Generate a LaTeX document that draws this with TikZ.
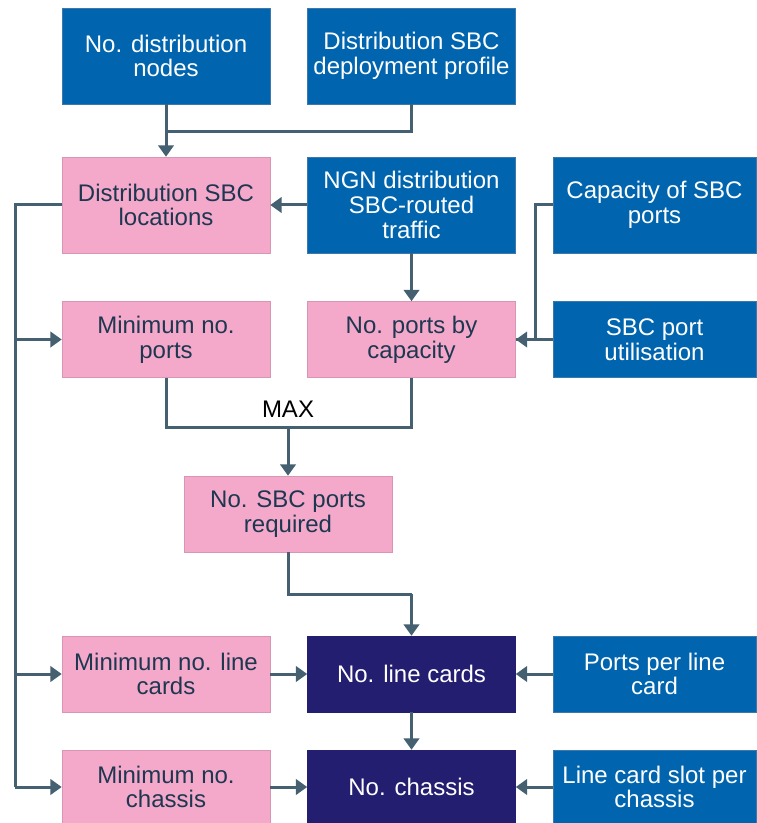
\documentclass[tikz,border=0pt]{standalone}
\usepackage{fontspec}
\setmainfont{Liberation Sans}
\usetikzlibrary{arrows.meta}
\definecolor{inblue}{RGB}{0,101,174}
\definecolor{inedge}{RGB}{60,120,170}
\definecolor{calcpink}{RGB}{244,169,203}
\definecolor{calcedge}{RGB}{214,150,180}
\definecolor{calctext}{RGB}{30,55,80}
\definecolor{outnavy}{RGB}{35,30,112}
\definecolor{wire}{RGB}{69,96,113}
\begin{document}
\begin{tikzpicture}[x=0.75pt,y=-0.75pt,
  box/.style={rectangle,inner sep=0pt,align=center,minimum width=156pt,
    font=\fontsize{18}{18.5}\selectfont},
  tall/.style={minimum height=72pt},
  flat/.style={minimum height=57pt},
  input/.style={box,fill=inblue,draw=inedge,line width=0.4pt,text=white},
  calcbox/.style={box,fill=calcpink,draw=calcedge,line width=0.4pt,text=calctext},
  output/.style={box,fill=outnavy,draw=outnavy,text=white},
  wireline/.style={draw=wire,line width=2.25pt},
  wirearrow/.style={wireline,-{Triangle[length=8.5pt,width=11.5pt]}}]
\useasboundingbox (0,0) rectangle (756,823);

% inputs along the top
\node[input,tall] (nodes) at (166,56) {No. distribution\\nodes};
\node[input,tall] (profile) at (411.5,56) {Distribution SBC\\deployment profile};

% second row
\node[calcbox,tall] (locations) at (166,205) {Distribution SBC\\locations};
\node[input,tall] (traffic) at (411.5,205) {NGN distribution\\SBC-routed\\traffic};
\node[input,tall,minimum width=152pt] (capacity) at (654.5,205) {Capacity of SBC\\ports};

% port sizing
\node[calcbox,flat] (minports) at (166,339.5) {Minimum no.\\ports};
\node[calcbox,flat] (portscap) at (411.5,339.5) {No. ports by\\capacity};
\node[input,flat,minimum width=152pt] (utilisation) at (654.5,339.5) {SBC port\\utilisation};
\node[calcbox,flat] (portsreq) at (288,514) {No. SBC ports\\required};

% line cards and chassis
\node[calcbox,flat] (minlc) at (166,674) {Minimum no. line\\cards};
\node[output,flat] (linecards) at (411.5,674) {No. line cards};
\node[input,flat,minimum width=152pt] (portsperlc) at (654.5,674) {Ports per line\\card};
\node[calcbox,flat,minimum height=55.5pt] (minchassis) at (166,787) {Minimum no.\\chassis};
\node[output,flat,minimum height=55.5pt] (chassis) at (411.5,787) {No. chassis};
\node[input,flat,minimum width=152pt,minimum height=55.5pt] (slots) at (654.5,787) {Line card slot per\\chassis};

% junction points
\coordinate (topjoin) at (166,132);
\coordinate (capjoin) at (535,205);
\coordinate (maxjoin) at (288,427);
\coordinate (reqjoin) at (411.5,594);
\coordinate (bus) at (15,787);

\draw[wirearrow] (nodes) -- (locations);
\draw[wireline] (profile.south) |- (topjoin);
\draw[wirearrow] (traffic) -- (locations);
\draw[wirearrow] (traffic) -- (portscap);
\draw[wireline] (capacity.west) -- (capjoin) |- (portscap.east);
\draw[wirearrow] (utilisation) -- (portscap);

% left hand feed from the locations
\draw[wireline] (locations.west) -| (bus);
\draw[wirearrow] (bus |- minports) -- (minports);
\draw[wirearrow] (bus |- minlc) -- (minlc);
\draw[wirearrow] (bus) -- (minchassis);

% MAX of the two port counts
\draw[wireline] (minports.south) |- (maxjoin) -| (portscap.south);
\draw[wirearrow] (maxjoin) -- (portsreq);
\node[font=\fontsize{18}{18.5}\selectfont] (maxlabel) at (288,409) {MAX};

\draw[wireline] (portsreq.south) |- (reqjoin);
\draw[wirearrow] (reqjoin) -- (linecards);
\draw[wirearrow] (minlc) -- (linecards);
\draw[wirearrow] (portsperlc) -- (linecards);
\draw[wirearrow] (linecards) -- (chassis);
\draw[wirearrow] (minchassis) -- (chassis);
\draw[wirearrow] (slots) -- (chassis);
\end{tikzpicture}
\end{document}
